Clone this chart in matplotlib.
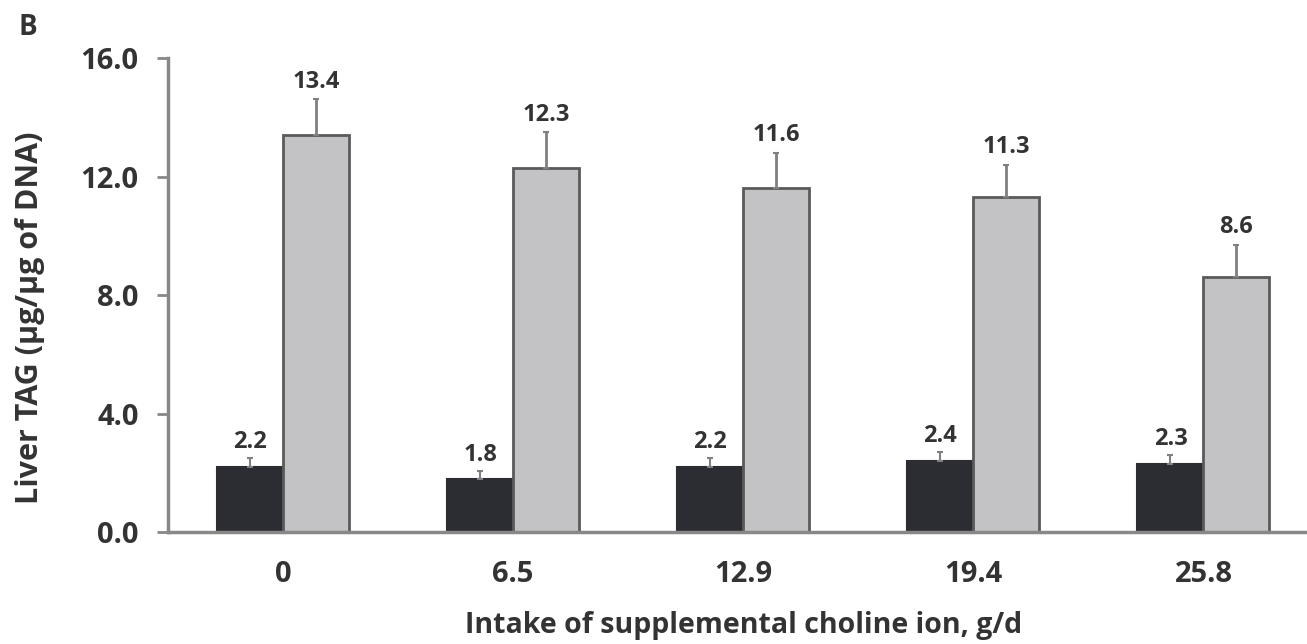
import numpy as np
import matplotlib
matplotlib.use("Agg")
import matplotlib.pyplot as plt

plt.rcParams.update({
    "font.family": ["Open Sans", "DejaVu Sans"],
    "font.weight": "bold",
    "text.color": "#333333",
    "axes.labelcolor": "#333333",
    "xtick.color": "#333333",
    "ytick.color": "#333333",
})

intakes = ["0", "6.5", "12.9", "19.4", "25.8"]
dark_vals = [2.2, 1.8, 2.2, 2.4, 2.3]
dark_err = [0.3, 0.25, 0.3, 0.3, 0.3]
gray_vals = [13.4, 12.3, 11.6, 11.3, 8.6]
gray_err = [1.2, 1.2, 1.2, 1.1, 1.1]
yticks = [0.0, 4.0, 8.0, 12.0, 16.0]

fig = plt.figure(figsize=(13.07, 6.44), dpi=100)
ax = fig.add_axes([0.1285, 0.1739, 0.8715, 0.7360])

x = np.arange(len(intakes))
w = 0.287
ax.bar(x - w/2, dark_vals, w, color="#2b2d33", edgecolor="#2b2d33", linewidth=1.5, zorder=2)
ax.bar(x + w/2, gray_vals, w, color="#c3c3c5", edgecolor="#5a5a5a", linewidth=2, zorder=2)
ax.errorbar(x - w/2, dark_vals, yerr=[np.zeros(5), dark_err], fmt="none",
            ecolor="#808080", elinewidth=1.5, capsize=2, capthick=1.5, zorder=3)
ax.errorbar(x + w/2, gray_vals, yerr=[np.zeros(5), gray_err], fmt="none",
            ecolor="#808080", elinewidth=2, capsize=2, capthick=1.5, zorder=3)

for xi, v, e in zip(x - w/2, dark_vals, dark_err):
    ax.annotate(f"{v:.1f}", (xi, v + e), xytext=(0, 3), textcoords="offset points",
                ha="center", va="bottom", fontsize=17, fontweight="bold")
for xi, v, e in zip(x + w/2, gray_vals, gray_err):
    ax.annotate(f"{v:.1f}", (xi, v + e), xytext=(0, 4), textcoords="offset points",
                ha="center", va="bottom", fontsize=17, fontweight="bold")

ax.set_xlim(-0.5, 4.45)
ax.set_ylim(0, 16)
ax.set_yticks(yticks)
ax.set_yticklabels([f"{t:.1f}" for t in yticks], fontsize=21, fontweight="bold")
ax.set_xticks(x)
ax.set_xticklabels(intakes, fontsize=21, fontweight="bold")
ax.tick_params(axis="x", length=0, pad=20)
ax.tick_params(axis="y", length=8, width=2, color="#888888", pad=13)

for s in ("top", "right"):
    ax.spines[s].set_visible(False)
for s in ("left", "bottom"):
    ax.spines[s].set_color("#888888")
    ax.spines[s].set_linewidth(2.5)

fig.text(0.569, 0.017, "Intake of supplemental choline ion, g/d", fontsize=20.5,
         fontweight="bold", ha="center", va="baseline")
fig.text(0.023, 0.506, "Liver TAG (µg/µg of DNA)", fontsize=22, fontweight="bold",
         rotation=90, ha="center", va="center")

fig.text(0.014, 0.958, "B", fontsize=20, fontweight="bold", ha="left", va="center")

fig.savefig("out.png", dpi=100)
